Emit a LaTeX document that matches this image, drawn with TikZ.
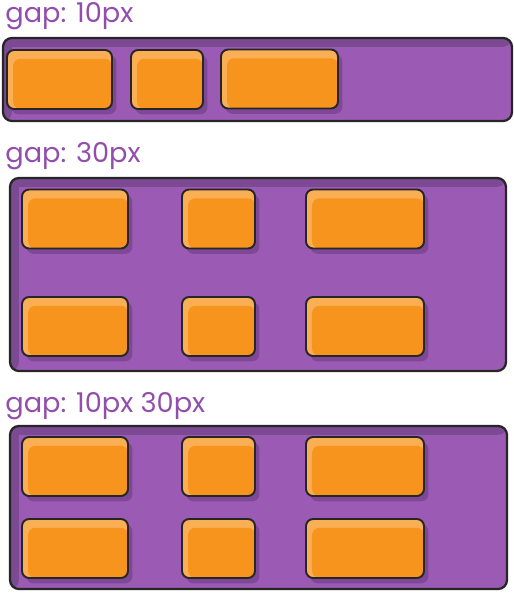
\documentclass[tikz,border=0pt]{standalone}
\usepackage{fontspec}
\newfontfamily\gapfont{Poppins}
\usetikzlibrary{shadows}
\definecolor{boxPurple}{RGB}{155,91,180}
\definecolor{bandPurple}{RGB}{124,74,146}
\definecolor{shadowPurple}{RGB}{126,72,150}
\definecolor{itemOrange}{RGB}{247,148,30}
\definecolor{itemLight}{RGB}{250,175,85}
\definecolor{textPurple}{RGB}{145,78,172}

\begin{document}
\begin{tikzpicture}[
    x=0.02cm, y=-0.02cm,
    outerbox/.style={
        draw=black!85,
        line width=1.3pt,
        fill=boxPurple,
        rounded corners=5pt,
        inner sep=0pt,
        path picture={
            \fill[bandPurple] (path picture bounding box.north west)
                rectangle ([yshift=-5pt]path picture bounding box.north east);
            \fill[bandPurple] (path picture bounding box.north west)
                rectangle ([xshift=5pt]path picture bounding box.south west);
        }
    },
    item/.style={
        draw=black!85,
        line width=1.1pt,
        fill=itemLight,
        rounded corners=4pt,
        inner sep=0pt,
        minimum height=1.18cm,
        drop shadow={shadow xshift=2.5pt, shadow yshift=-3pt,
                     fill=shadowPurple, opacity=1},
        path picture={
            \fill[itemOrange, rounded corners=4pt]
                ([shift={(3.5pt,-5pt)}]path picture bounding box.north west)
                rectangle (path picture bounding box.south east);
        }
    },
    label/.style={
        font=\gapfont\fontsize{15.5}{18}\selectfont,
        text=textPurple,
        anchor=base west,
        inner sep=0pt
    }
]
\useasboundingbox (0,0) rectangle (514,596);

%--- gap: 10px ---
\node[label] (lblA) at (5,22) {gap: 10px};
\node[outerbox, minimum width=10.18cm, minimum height=1.66cm]
    (boxA) at (257.5,79.5) {};
\node[item, minimum width=2.10cm] (a1) at (59.5,79.5) {};
\node[item, minimum width=1.44cm] (a2) at (167,79.5) {};
\node[item, minimum width=2.34cm] (a3) at (279.5,79) {};

%--- gap: 30px ---
\node[label] (lblB) at (5,162) {gap: 30px};
\node[outerbox, minimum width=9.92cm, minimum height=3.86cm]
    (boxB) at (258,274.5) {};
\node[item, minimum width=2.12cm] (b1) at (75,219) {};
\node[item, minimum width=1.46cm] (b2) at (218.5,219) {};
\node[item, minimum width=2.36cm] (b3) at (365,219) {};
\node[item, minimum width=2.12cm] (b4) at (75,326.5) {};
\node[item, minimum width=1.46cm] (b5) at (218.5,326.5) {};
\node[item, minimum width=2.36cm] (b6) at (365,326.5) {};

%--- gap: 10px 30px ---
\node[label] (lblC) at (5,412) {gap: 10px 30px};
\node[outerbox, minimum width=9.94cm, minimum height=3.26cm]
    (boxC) at (258.5,507.5) {};
\node[item, minimum width=2.12cm] (c1) at (75,466.5) {};
\node[item, minimum width=1.46cm] (c2) at (218.5,466.5) {};
\node[item, minimum width=2.36cm] (c3) at (365,466.5) {};
\node[item, minimum width=2.12cm] (c4) at (75,548.5) {};
\node[item, minimum width=1.46cm] (c5) at (218.5,548.5) {};
\node[item, minimum width=2.36cm] (c6) at (365,548.5) {};

\end{tikzpicture}
\end{document}
